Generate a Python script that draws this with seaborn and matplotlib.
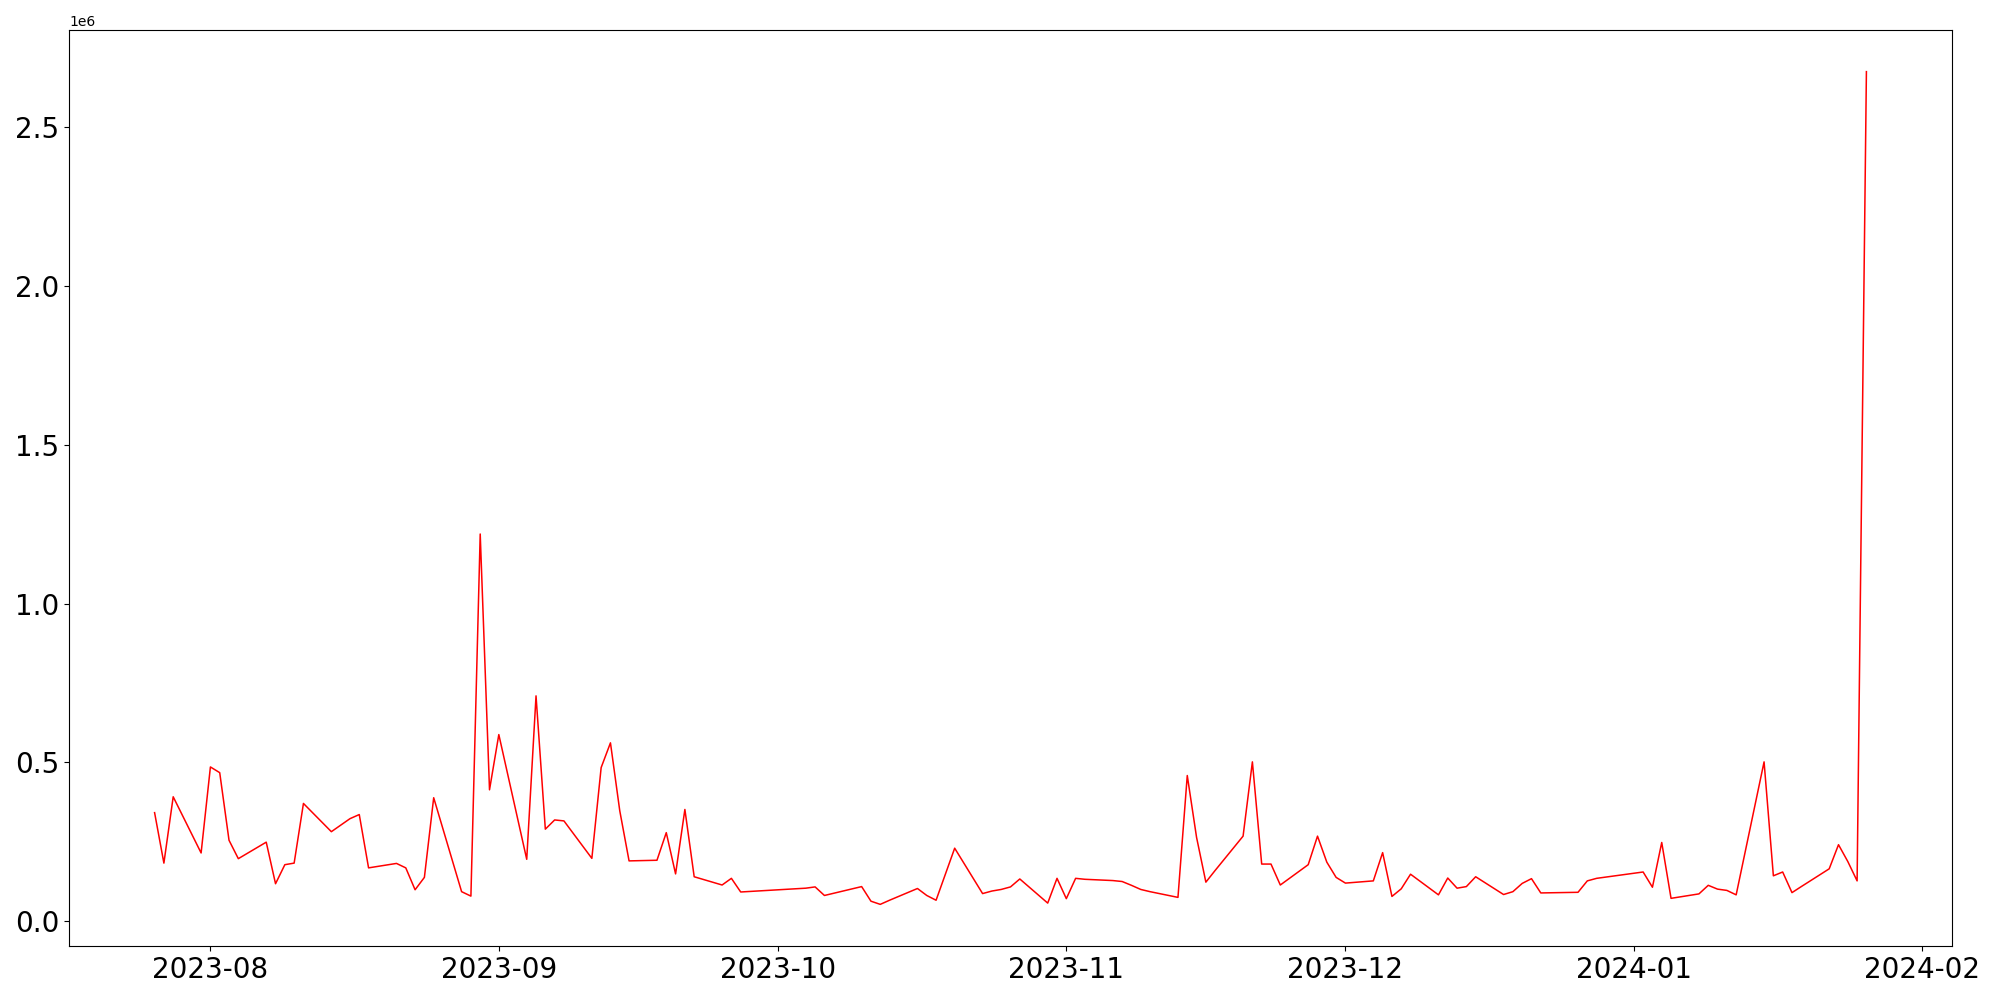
import matplotlib
matplotlib.use('Agg')
import matplotlib.pyplot as plt
import seaborn as sns
import pandas as pd

# trading days (Korean market calendar) and daily values
dates = [
    '2023-07-26', '2023-07-27', '2023-07-28', '2023-07-31',
    '2023-08-01', '2023-08-02', '2023-08-03', '2023-08-04',
    '2023-08-07', '2023-08-08', '2023-08-09', '2023-08-10', '2023-08-11',
    '2023-08-14', '2023-08-16', '2023-08-17', '2023-08-18',
    '2023-08-21', '2023-08-22', '2023-08-23', '2023-08-24', '2023-08-25',
    '2023-08-28', '2023-08-29', '2023-08-30', '2023-08-31', '2023-09-01',
    '2023-09-04', '2023-09-05', '2023-09-06', '2023-09-07', '2023-09-08',
    '2023-09-11', '2023-09-12', '2023-09-13', '2023-09-14', '2023-09-15',
    '2023-09-18', '2023-09-19', '2023-09-20', '2023-09-21', '2023-09-22',
    '2023-09-25', '2023-09-26', '2023-09-27',
    '2023-10-04', '2023-10-05', '2023-10-06',
    '2023-10-10', '2023-10-11', '2023-10-12', '2023-10-13',
    '2023-10-16', '2023-10-17', '2023-10-18', '2023-10-19', '2023-10-20',
    '2023-10-23', '2023-10-24', '2023-10-25', '2023-10-26', '2023-10-27',
    '2023-10-30', '2023-10-31', '2023-11-01', '2023-11-02', '2023-11-03',
    '2023-11-06', '2023-11-07', '2023-11-08', '2023-11-09', '2023-11-10',
    '2023-11-13', '2023-11-14', '2023-11-15', '2023-11-16', '2023-11-17',
    '2023-11-20', '2023-11-21', '2023-11-22', '2023-11-23', '2023-11-24',
    '2023-11-27', '2023-11-28', '2023-11-29', '2023-11-30', '2023-12-01',
    '2023-12-04', '2023-12-05', '2023-12-06', '2023-12-07', '2023-12-08',
    '2023-12-11', '2023-12-12', '2023-12-13', '2023-12-14', '2023-12-15',
    '2023-12-18', '2023-12-19', '2023-12-20', '2023-12-21', '2023-12-22',
    '2023-12-26', '2023-12-27', '2023-12-28',
    '2024-01-02', '2024-01-03', '2024-01-04', '2024-01-05',
    '2024-01-08', '2024-01-09', '2024-01-10', '2024-01-11', '2024-01-12',
    '2024-01-15', '2024-01-16', '2024-01-17', '2024-01-18', '2024-01-19',
    '2024-01-22', '2024-01-23', '2024-01-24', '2024-01-25', '2024-01-26',
]

values = [
    341000, 182000, 391000, 214000,
    485000, 467000, 254000, 196000,
    248000, 117000, 177000, 182000, 370000,
    281000, 322000, 335000, 167000,
    181000, 167000, 98000, 137000, 388000,
    92000, 78000, 1219000, 413000, 587000,
    194000, 709000, 289000, 318000, 315000,
    197000, 483000, 561000, 347000, 189000,
    191000, 278000, 148000, 351000, 139000,
    113000, 134000, 91000,
    103000, 107000, 80000,
    108000, 62000, 52000, 65000,
    102000, 80000, 65000, 147000, 229000,
    86000, 94000, 99000, 107000, 132000,
    56000, 134000, 70000, 134000, 131000,
    127000, 124000, 112000, 99000, 92000,
    74000, 458000, 263000, 122000, 159000,
    267000, 501000, 179000, 179000, 113000,
    177000, 267000, 185000, 137000, 119000,
    126000, 215000, 77000, 101000, 147000,
    82000, 135000, 103000, 108000, 139000,
    83000, 92000, 118000, 133000, 88000,
    90000, 126000, 134000,
    154000, 106000, 247000, 71000,
    85000, 112000, 100000, 96000, 82000,
    501000, 142000, 154000, 89000, 108000,
    164000, 240000, 187000, 126000, 2676000,
]

df = pd.DataFrame({'date': pd.to_datetime(dates), 'value': values})

fig, ax = plt.subplots(figsize=(20, 10), dpi=100)
sns.lineplot(data=df, x='date', y='value', color='red', linewidth=1.1, ax=ax)
ax.set_xlabel('')
ax.set_ylabel('')
ax.tick_params(axis='both', labelsize=20)
plt.subplots_adjust(left=0.0345, right=0.976, top=0.970, bottom=0.054)
plt.savefig('out.png')
